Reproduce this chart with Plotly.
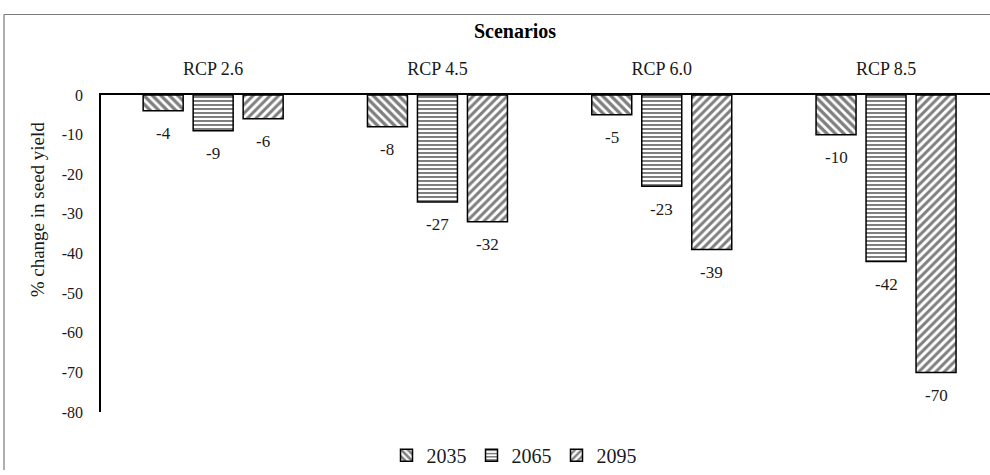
import plotly.graph_objects as go

# Scenario categories and projected change in seed yield (%)
scenarios = ["RCP 2.6", "RCP 4.5", "RCP 6.0", "RCP 8.5"]
years = ["2035", "2065", "2095"]
change_2035 = [-4, -8, -5, -10]
change_2065 = [-9, -27, -23, -42]
change_2095 = [-6, -32, -39, -70]
y_ticks = [0, -10, -20, -30, -40, -50, -60, -70, -80]

series = [change_2035, change_2065, change_2095]
patterns = [
    dict(shape="\\", size=6, solidity=0.55, fgcolor="black", bgcolor="white"),
    dict(shape="-", size=4, solidity=0.5, fgcolor="black", bgcolor="white"),
    dict(shape="/", size=6, solidity=0.5, fgcolor="black", bgcolor="white"),
]

SERIF = "Times New Roman, Liberation Serif, serif"
INK = "#1a1a1a"

# pixel geometry of the plotting area
W, H = 990, 475
ML, MR, MT, MB = 101, 0, 95, 57
plot_w = W - ML - MR
plot_h = H - MT - MB
cat_px = 224.3  # width of one scenario band

fig = go.Figure()
for name, vals, pat in zip(years, series, patterns):
    fig.add_trace(go.Bar(
        x=scenarios, y=vals, name=name,
        marker=dict(color="white", pattern=pat,
                    line=dict(color="black", width=1.5)),
    ))

# value labels under each bar
annotations = []
for j, vals in enumerate(series):
    for cat, v in zip(scenarios, vals):
        annotations.append(dict(
            x=cat, y=v, xref="x", yref="y", text=str(v), showarrow=False,
            xshift=(j - 1) * 50, yshift=-23, yanchor="middle",
            font=dict(family=SERIF, size=17, color=INK),
        ))


def px_x(p):
    return (p - ML) / plot_w


def px_y(p):
    return (H - MB - p) / plot_h


# y-axis title
annotations.append(dict(
    x=px_x(25), y=px_y(212), xref="paper", yref="paper",
    text="% change in seed yield", textangle=-90, showarrow=False,
    font=dict(family=SERIF, size=19, color=INK),
))

# frame lines around the chart
shapes = [
    dict(type="line", xref="paper", yref="paper",
         x0=px_x(4), x1=px_x(992), y0=px_y(13), y1=px_y(13),
         line=dict(color="#7a7a7a", width=1.2)),
    dict(type="line", xref="paper", yref="paper",
         x0=px_x(4), x1=px_x(4), y0=px_y(13), y1=px_y(477),
         line=dict(color="#7a7a7a", width=1.2)),
]

fig.update_layout(
    width=W, height=H,
    margin=dict(l=ML, r=MR, t=MT, b=MB),
    paper_bgcolor="white", plot_bgcolor="white",
    barmode="group", bargap=1 - 150 / cat_px, bargroupgap=0.2,
    font=dict(family=SERIF, color=INK),
    title=dict(text="<b>Scenarios</b>", x=515 / W, xanchor="center",
               y=1 - 31 / H, yanchor="middle",
               font=dict(family=SERIF, size=20, color="black")),
    xaxis=dict(
        side="top", type="category", range=[-0.5, -0.5 + plot_w / cat_px],
        showline=True, linecolor="black", linewidth=1.5,
        ticks="outside", ticklen=11, tickcolor="rgba(0,0,0,0)",
        tickfont=dict(family=SERIF, size=18, color=INK),
        showgrid=False, zeroline=False,
    ),
    yaxis=dict(
        range=[-80, 0], tickvals=y_ticks, ticktext=[str(t) for t in y_ticks],
        showline=True, linecolor="black", linewidth=1.5,
        ticks="outside", ticklen=13, tickcolor="rgba(0,0,0,0)",
        tickfont=dict(family=SERIF, size=16, color=INK),
        showgrid=False, zeroline=False,
    ),
    legend=dict(
        orientation="h", x=px_x(514), xanchor="center",
        y=px_y(462), yanchor="middle",
        font=dict(family=SERIF, size=20, color=INK),
        itemwidth=30, bgcolor="rgba(0,0,0,0)",
    ),
    annotations=annotations,
    shapes=shapes,
)

fig.write_html("out.html")
